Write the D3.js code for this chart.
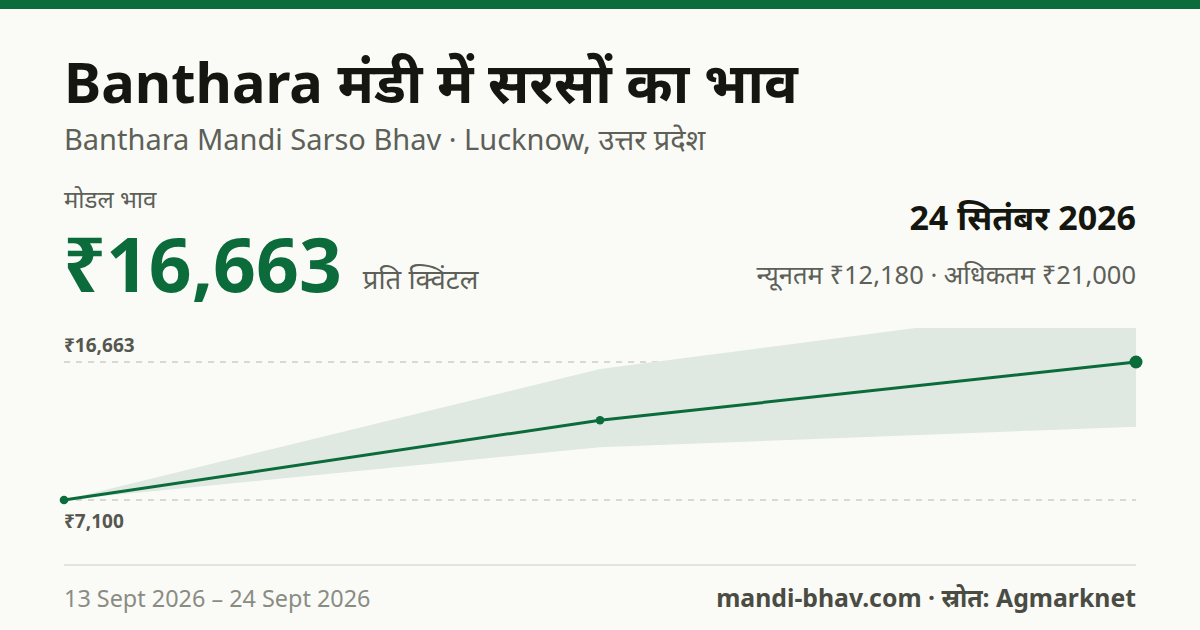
<!DOCTYPE html>
<html>
<head>
<meta charset="utf-8">
<script src="https://cdn.jsdelivr.net/npm/d3@7"></script>
<style>
  body { margin: 0; background: #fafbf7; }
  svg { display: block; font-family: "Noto Sans", sans-serif; }
</style>
</head>
<body>
<svg id="chart" width="1200" height="630"></svg>
<script>
// DATA -----------------------------------------------------------
const dates = ["2026-09-13", "2026-09-19", "2026-09-24"]
const modalPrice = [7100, 12630, 16663]
const minPrice = [7100, 10760, 12180]
const maxPrice = [7100, 16180, 21000]
const refTicks = [16663, 7100]

const title = "Banthara मंडी में सरसों का भाव"
const subtitle = "Banthara Mandi Sarso Bhav · Lucknow, उत्तर प्रदेश"
const latestDate = "24 सितंबर 2026"
const rangeText = "न्यूनतम ₹12,180 · अधिकतम ₹21,000"
const footerLeft = "13 Sept 2026 – 24 Sept 2026"
const footerRight = "mandi-bhav.com · स्रोत: Agmarknet"

const green = "#0b6b3a"
const fmt = d => "₹" + d3.format(",")(d)

const width = 1200, height = 630
const margin = { left: 64, right: 64 }

const svg = d3.select("#chart")

svg.append("rect").attr("width", width).attr("height", height).attr("fill", "#fafbf7")
svg.append("rect").attr("width", width).attr("height", 9).attr("fill", green)

// HEADER -----------------------------------------------------------
svg.append("text")
    .attr("x", margin.left).attr("y", 103)
    .attr("font-size", 56).attr("font-weight", 700).attr("fill", "#14160f")
    .text(title)

svg.append("text")
    .attr("x", margin.left).attr("y", 150)
    .attr("font-size", 29).attr("fill", "#5d6057")
    .text(subtitle)

svg.append("text")
    .attr("x", margin.left).attr("y", 208)
    .attr("font-size", 24).attr("fill", "#5d6057")
    .text("मोडल भाव")

const big = svg.append("text")
    .attr("x", margin.left - 1).attr("y", 292)
    .attr("font-size", 75).attr("font-weight", 700).attr("fill", green)
    .text(fmt(modalPrice[modalPrice.length - 1]))

const bigW = big.node().getComputedTextLength()
svg.append("text")
    .attr("x", margin.left + bigW + 20).attr("y", 289)
    .attr("font-size", 27.5).attr("fill", "#5d6057")
    .text("प्रति क्विंटल")

svg.append("text")
    .attr("x", width - margin.right).attr("y", 230)
    .attr("text-anchor", "end")
    .attr("font-size", 34).attr("font-weight", 700).attr("fill", "#14160f")
    .text(latestDate)

svg.append("text")
    .attr("x", width - margin.right).attr("y", 284)
    .attr("text-anchor", "end")
    .attr("font-size", 25.5).attr("fill", "#5d6057")
    .text(rangeText)

// CHART -----------------------------------------------------------
const data = dates.map((d, i) => ({
    date: d, modal: modalPrice[i], min: minPrice[i], max: maxPrice[i]
}))

const xScale = d3.scalePoint()
    .domain(dates)
    .range([margin.left, width - margin.right])

const yScale = d3.scaleLinear()
    .domain([d3.min(modalPrice), d3.max(modalPrice)])
    .range([500, 362])

svg.append("defs").append("clipPath").attr("id", "plot-clip")
    .append("rect")
    .attr("x", 0).attr("y", 328)
    .attr("width", width).attr("height", 230)

// reference lines
refTicks.forEach(v => {
    svg.append("line")
        .attr("x1", margin.left).attr("x2", width - margin.right)
        .attr("y1", yScale(v)).attr("y2", yScale(v))
        .attr("stroke", "#b5b7ae").attr("stroke-width", 1.2)
        .attr("stroke-dasharray", "6,6")
})

const area = d3.area()
    .x(d => xScale(d.date))
    .y0(d => yScale(d.min))
    .y1(d => yScale(d.max))

svg.append("path")
    .datum(data)
    .attr("clip-path", "url(#plot-clip)")
    .attr("d", area)
    .attr("fill", "#dfe9e1")

const line = d3.line()
    .x(d => xScale(d.date))
    .y(d => yScale(d.modal))

svg.append("path")
    .datum(data)
    .attr("d", line)
    .attr("fill", "none")
    .attr("stroke", green)
    .attr("stroke-width", 3)

svg.selectAll(".dot")
    .data(data)
    .join("circle")
    .attr("class", "dot")
    .attr("cx", d => xScale(d.date))
    .attr("cy", d => yScale(d.modal))
    .attr("r", (d, i) => i === data.length - 1 ? 6.5 : 4.3)
    .attr("fill", green)

svg.append("text")
    .attr("x", margin.left).attr("y", yScale(refTicks[0]) - 10)
    .attr("font-size", 19).attr("font-weight", 700).attr("fill", "#55574f")
    .text(fmt(refTicks[0]))

svg.append("text")
    .attr("x", margin.left).attr("y", yScale(refTicks[1]) + 28)
    .attr("font-size", 19).attr("font-weight", 700).attr("fill", "#55574f")
    .text(fmt(refTicks[1]))

// FOOTER -----------------------------------------------------------
svg.append("line")
    .attr("x1", margin.left).attr("x2", width - margin.right)
    .attr("y1", 565).attr("y2", 565)
    .attr("stroke", "#e3e4dc").attr("stroke-width", 2)

svg.append("text")
    .attr("x", margin.left).attr("y", 607)
    .attr("font-size", 23.4).attr("fill", "#8a8c84")
    .text(footerLeft)

svg.append("text")
    .attr("x", width - margin.right).attr("y", 607)
    .attr("text-anchor", "end")
    .attr("font-size", 24.8).attr("font-weight", 700).attr("fill", "#4a4c44")
    .text(footerRight)
</script>
</body>
</html>
